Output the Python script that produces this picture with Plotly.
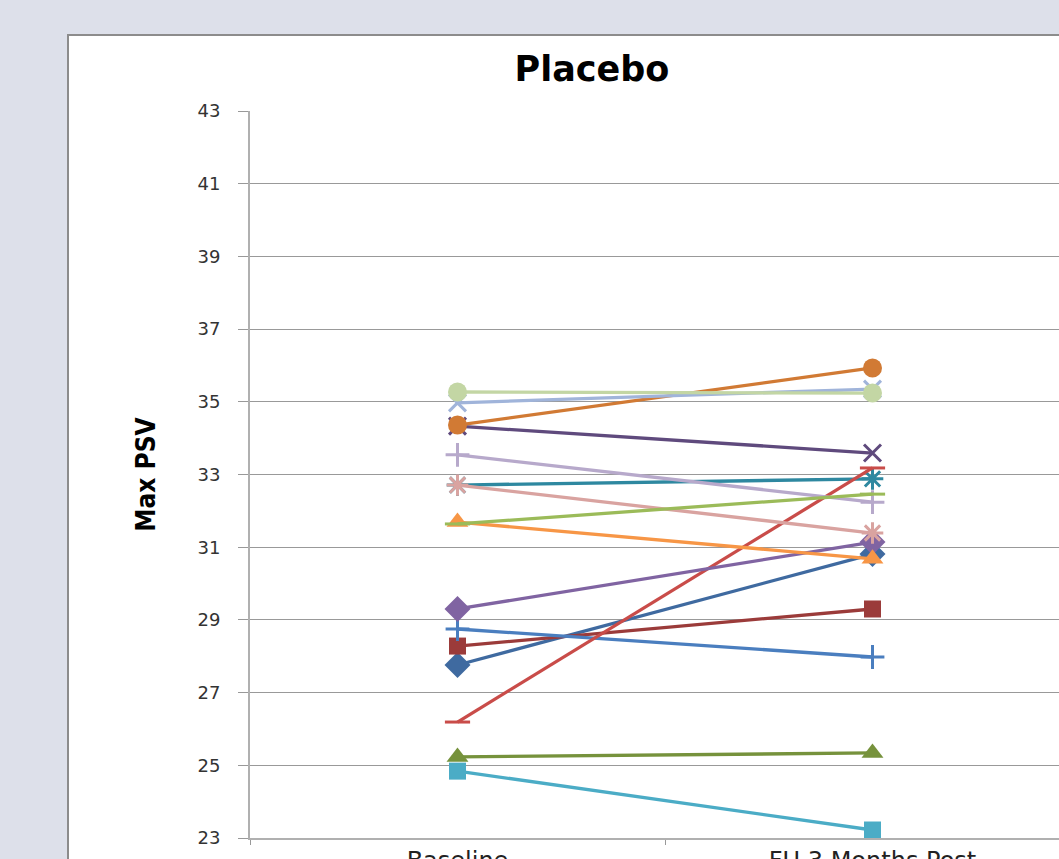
import plotly.graph_objects as go

categories = ["Baseline", "FU 3 Months Post"]
subjects = [f"Subject {i}" for i in range(1, 17)]
baseline = [27.76, 28.28, 25.23, 34.33, 32.71, 34.36, 28.75, 26.19,
            29.30, 24.84, 31.69, 34.97, 32.71, 35.27, 33.54, 31.64]
fu_3m = [30.81, 29.30, 25.34, 33.59, 32.88, 35.93, 27.98, 33.18,
         31.14, 23.22, 30.68, 35.35, 31.39, 35.24, 32.24, 32.46]
y_ticks = list(range(23, 44, 2))

colors = ["#3F6AA0", "#9B3B3A", "#76923C", "#5F4A7D", "#2E88A0", "#D17A34",
          "#4A7EBF", "#C94C49", "#8064A2", "#4BACC6", "#F79646", "#A0B4DA",
          "#D9A3A0", "#C3D6A4", "#B7A9CB", "#9BBB59"]
symbols = ["diamond", "square", "triangle-up", "x-thin", "asterisk", "circle",
           "cross-thin", "line-ew"] * 2
sizes = {"diamond": 20, "square": 17, "triangle-up": 19, "x-thin": 17,
         "asterisk": 18, "circle": 19, "cross-thin": 17, "line-ew": 18}

fig = go.Figure()
for name, b, f, c, s in zip(subjects, baseline, fu_3m, colors, symbols):
    thin = s in ("x-thin", "asterisk", "cross-thin", "line-ew")
    fig.add_trace(go.Scatter(
        x=categories, y=[b, f], name=name, mode="lines+markers",
        line=dict(color=c, width=3.3),
        marker=dict(symbol=s, size=sizes[s], color=c,
                    line=dict(color=c, width=3 if thin else 0)),
        cliponaxis=False, showlegend=False))

L, T, B = 250, 111, 21
W, H = 1059, 859
pw, ph = W - L, H - T - B

fig.add_shape(type="rect", xref="paper", yref="paper",
              x0=(68 - L) / pw, x1=1.1, y0=-0.2, y1=(H - B - 35) / ph,
              fillcolor="white", line=dict(color="#8c8c8c", width=2),
              layer="below")

fig.update_layout(
    width=W, height=H,
    margin=dict(l=L, r=0, t=T, b=B, pad=0, autoexpand=False),
    paper_bgcolor="#dde0ea", plot_bgcolor="rgba(0,0,0,0)",
    title=dict(text="<b>Placebo</b>", x=592 / W, xanchor="center",
               y=1 - 69 / H, yanchor="middle",
               font=dict(family="DejaVu Sans", size=35, color="black")),
    xaxis=dict(type="category", categoryorder="array", categoryarray=categories,
               range=[-0.5, -0.5 + pw / 415.0], tickson="boundaries",
               automargin=False,
               ticks="outside", ticklen=5, tickcolor="#999999",
               showline=True, linecolor="#b0b0b0", linewidth=2,
               showgrid=False, zeroline=False, ticklabelstandoff=0,
               tickfont=dict(family="DejaVu Sans", size=24, color="#222222")),
    yaxis=dict(range=[23, 43], tickvals=y_ticks, ticks="outside", ticklen=10,
               automargin=False,
               tickcolor="#999999", showline=True, linecolor="#b0b0b0",
               linewidth=2, gridcolor="#999999", gridwidth=1, zeroline=False,
               ticklabelstandoff=14,
               tickfont=dict(family="DejaVu Sans", size=18, color="#333333"),
               title=dict(text="<b>Max PSV</b>", standoff=34,
                          font=dict(family="DejaVu Sans Condensed, DejaVu Sans",
                                    size=26, color="black", weight="bold"))),
)

fig.write_html("out.html")
